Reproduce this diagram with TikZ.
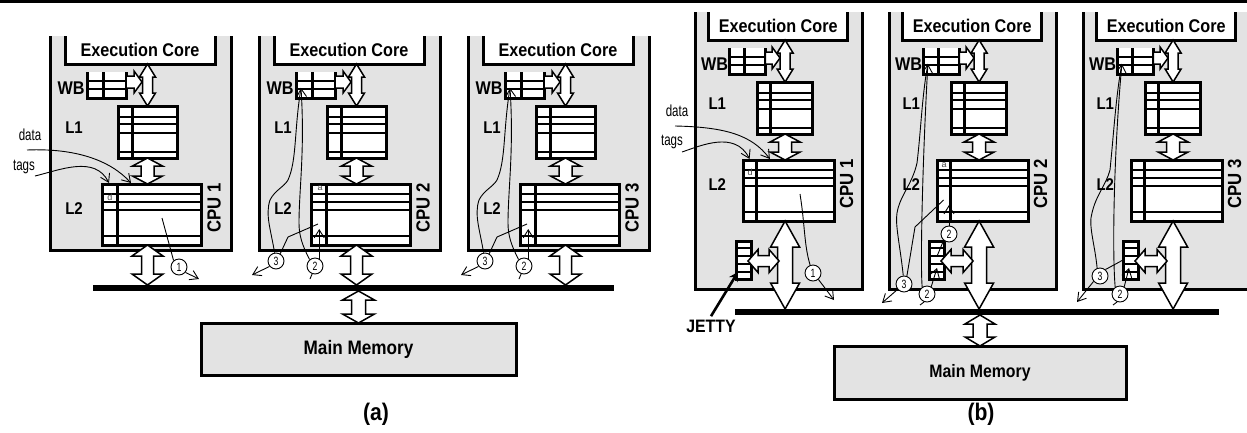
\documentclass[tikz,border=0pt]{standalone}
\usepackage{fontspec}
\setmainfont{Liberation Sans}
\newfontfamily\narrowfont[FakeStretch=0.72]{Liberation Sans}
\newfontfamily\tallfont[FakeStretch=0.88]{Liberation Sans}
\usepackage{xcolor}
\usetikzlibrary{arrows.meta, positioning, fit, calc}
\definecolor{BoxGray}{RGB}{227, 227, 227}
\newcommand{\fsize}[1]{\fontsize{#1}{#1}\selectfont}
\tikzset{
  boxnode/.style={rectangle, inner sep=0pt, outer sep=0pt},
  unitbox/.style={boxnode, fill=BoxGray},
  corebox/.style={boxnode, fill=white},
  cachebox/.style={boxnode, fill=white, draw=black, line width=3pt},
  memorybox/.style={boxnode, fill=BoxGray, draw=black, line width=3pt},
  openside/.style={line width=3pt, line cap=butt},
  cacheline/.style={line width=2.3pt},
  cachevert/.style={line width=3pt},
  buspath/.style={boxnode, fill=black},
  labeltext/.style={font=\fsize{17}\tallfont\bfseries},
  corelabel/.style={font=\fsize{18.4}\tallfont\bfseries},
  cputext/.style={font=\fsize{19}\tallfont\bfseries, rotate=90},
  captext/.style={font=\fsize{24}\tallfont\bfseries},
  thintext/.style={font=\fsize{16}\narrowfont},
  tinytext/.style={font=\fsize{9}, text=black!70},
  stepnum/.style={circle, draw=black, fill=white, line width=0.9pt, inner sep=0pt,
    minimum size=16pt, font=\fsize{12}\narrowfont},
  leader/.style={line width=0.9pt},
  leadarr/.style={leader, -{Straight Barb[length=8pt,width=10pt]}},
  blockarrow/.style={draw=black, fill=white, line width=1.5pt, line join=miter},
  dblv/.style n args={3}{to path={let \p1=(\tikztostart), \p2=(\tikztotarget) in
    -- (\x1+#1pt,\y1-#3pt) -- (\x1+#2pt,\y1-#3pt) -- (\x1+#2pt,\y2+#3pt)
    -- (\x1+#1pt,\y2+#3pt) -- (\x1,\y2) -- (\x1-#1pt,\y2+#3pt)
    -- (\x1-#2pt,\y2+#3pt) -- (\x1-#2pt,\y1-#3pt) -- (\x1-#1pt,\y1-#3pt) -- cycle}},
  dblh/.style n args={3}{to path={let \p1=(\tikztostart), \p2=(\tikztotarget) in
    -- (\x1+#3pt,\y1+#1pt) -- (\x1+#3pt,\y1+#2pt) -- (\x2-#3pt,\y1+#2pt)
    -- (\x2-#3pt,\y1+#1pt) -- (\x2,\y1) -- (\x2-#3pt,\y1-#1pt)
    -- (\x2-#3pt,\y1-#2pt) -- (\x1+#3pt,\y1-#2pt) -- (\x1+#3pt,\y1-#1pt) -- cycle}},
  sglh/.style n args={3}{to path={let \p1=(\tikztostart), \p2=(\tikztotarget) in
    -- (\x1,\y1+#2pt) -- (\x2-#3pt,\y1+#2pt) -- (\x2-#3pt,\y1+#1pt) -- (\x2,\y1)
    -- (\x2-#3pt,\y1-#1pt) -- (\x2-#3pt,\y1-#2pt) -- (\x1,\y1-#2pt) -- cycle}},
}
% #1 name, #2 shift x, #3 shift y, #4 xscale, #5 bottom of gray box, #6 cpu label
\newcommand{\cpuunit}[6]{
  \begin{scope}[shift={(#2,#3)}, xscale=#4]
    \node[unitbox, fit={(50,36) (231,#5)}] (#1box) {};
    \draw[openside] (#1box.north west) -- (#1box.south west) -- (#1box.south east) -- (#1box.north east);
    \node[corebox, fit={(65,36) (215,64)}] (#1exec) {};
    \draw[openside] (#1exec.north west) -- (#1exec.south west) -- (#1exec.south east) -- (#1exec.north east);
    \node[corelabel] (#1exectext) at (140,50) {Execution Core};
    \node[corebox, fit={(87,72) (126,98)}] (#1wb) {};
    \draw[openside] (#1wb.north west) -- (#1wb.south west) -- (#1wb.south east) -- (#1wb.north east);
    \draw[cachevert] (103,72) -- (103,98);
    \foreach \y in {81,89} \draw[cacheline] (87,\y) -- (126,\y);
    \node[cachebox, fit={(118,106) (177,158)}] (#1lone) {};
    \draw[cachevert] (132,106) -- (132,158);
    \foreach \y in {117,124,133,152} \draw[cacheline] (118,\y) -- (177,\y);
    \node[cachebox, fit={(102,184) (201,245)}] (#1ltwo) {};
    \draw[cachevert] (117,184) -- (117,245);
    \foreach \y in {194,202,210,236} \draw[cacheline] (102,\y) -- (201,\y);
    \node[corelabel] (#1wbtext) at (71,88) {WB};
    \node[labeltext] (#1lonetext) at (74,128) {L1};
    \node[labeltext] (#1ltwotext) at (74,209) {L2};
    \node[cputext] (#1cpu) at (214,208) {CPU #6};
    \coordinate (#1wbtip) at (142,82);
    \coordinate (#1wbhit) at (92,88);
    \coordinate (#1ltwohit) at (111,229);
    \coordinate (#1ltwonote) at (109,224);
    \coordinate (#1datahit) at (131,183);
    \coordinate (#1tagshit) at (109,183);
  \end{scope}
  \draw[blockarrow, dblv={8}{5}{13}] (#1lone |- #1exec.south) to (#1lone.north);
  \draw[blockarrow, sglh={11}{6}{8}] (#1wb.east |- #1wbtip) to (#1wbtip);
  \draw[blockarrow, dblv={15}{6.5}{8}] (#1lone.south) to (#1lone |- #1ltwo.north);
}
% #1 name, #2 jetty left edge
\newcommand{\jettybox}[2]{
  \node[cachebox, fit={(#2,241) (#2+15,279)}] (#1jetty) {};
  \foreach \y in {248,256,264,272} \draw[cacheline] (#2,\y) -- (#2+15,\y);
  \draw[blockarrow, dblh={11.5}{5.5}{10}] ($(#1jetty.east)+(-3,1)$) to ($(#1lone |- #1jetty.east)+(-6,1)$);
}
% #1 name, #2 shift x
\newcommand{\notesa}[2]{
  \begin{scope}[shift={(#2,0)}]
    \node[stepnum] (#1nthree) at (67,261) {3};
    \node[stepnum] (#1ntwo) at (106,266) {2};
    \coordinate (#1threeout) at (43,275);
    \coordinate (#1twoout) at (101,279);
    \draw[leader] (#1nthree.100) .. controls (62,230) and (56,215) .. (61,200)
      .. controls (66,190) and (75,187) .. (79,180) .. controls (88,160) and (85,130) .. (#1wbhit);
    \draw[leadarr] (#1ntwo.130) .. controls (93,245) and (90,235) .. (90,223)
      .. controls (90,190) and (96,150) .. (#1wbhit);
    \draw[leader] (#1nthree.60) -- (79,237) -- (#1ltwonote);
    \draw[leadarr] (#1ntwo.60) -- (#1ntwo.60 |- #1ltwohit);
    \draw[leadarr] (#1nthree.220) -- (#1threeout);
    \draw[leader] (#1ntwo.250) -- (#1twoout);
  \end{scope}
}
\begin{document}
\begin{tikzpicture}[x=1pt, y=-1pt]
  \useasboundingbox (0,0) rectangle (1247,432);
  \clip (0,0) rectangle (1247,432);
  \node[buspath, fit={(0,0) (1247,3)}] (toprule) {};

  % panel (a)
  \node[buspath, fit={(93,285) (614,291)}] (busa) {};
  \node[memorybox, fit={(201,323) (516,375)}] (mema) {};
  \node[font=\fsize{19.5}\tallfont\bfseries] (memtexta) at (mema.center) {Main Memory};
  \node[captext] (capa) at (376,414) {(a)};
  \draw[blockarrow, dblv={16}{7}{9}] (mema |- busa.south) to (mema.north);
  \foreach \name/\dx/\num in {aone/0/1, atwo/209/2, athree/418/3} {
    \cpuunit{\name}{\dx}{0}{1}{250}{\num}
    \draw[blockarrow, dblv={15.5}{6}{11}] (\name lone |- \name ltwo.south) to (\name lone |- busa.north);
  }
  \notesa{atwo}{209}
  \notesa{athree}{418}
  \node[tinytext] (adone) at (110,197) {d};
  \node[tinytext] (adtwo) at (320,188) {a};
  \node[thintext] (adata) at (30,135) {data};
  \node[thintext] (atags) at (24,167) {tags};
  \coordinate (adatastart) at (27,150);
  \coordinate (atagsstart) at (35,176);
  \draw[leadarr] (adatastart) .. controls (75,148) and (110,160) .. (aonedatahit);
  \draw[leadarr] (atagsstart) .. controls (60,170) and (95,155) .. (aonetagshit);
  \node[stepnum] (aonenum) at (179,267) {1};
  \coordinate (aonetap) at (162,218);
  \coordinate (aoneout) at (199,279);
  \draw[leader] (aonetap) -- (aonenum.130);
  \draw[leadarr] (aonenum.-40) -- (aoneout);

  % panel (b)
  \node[buspath, fit={(735,309) (1219,315)}] (busb) {};
  \node[memorybox, fit={(834,346) (1126,399)}] (memb) {};
  \node[font=\fsize{18}\tallfont\bfseries] (memtextb) at (memb.center) {Main Memory};
  \node[captext] (capb) at (981,414) {(b)};
  \draw[blockarrow, dblv={15}{7}{9}] (memb |- busb.south) to (memb.north);
  \foreach \name/\dx/\num in {bone/649/1, btwo/843/2, bthree/1037/3} {
    \cpuunit{\name}{\dx}{-24}{0.9227}{313}{\num}
    \draw[blockarrow, dblv={14.5}{7.5}{26}] (\name lone |- \name ltwo.south) to (\name lone |- busb.north);
  }
  \jettybox{bone}{736}
  \jettybox{btwo}{929}
  \jettybox{bthree}{1123}
  \node[font=\fsize{18}\tallfont\bfseries] (jettytext) at (711,326) {JETTY};
  \draw[line width=2.6pt, -{Stealth[length=9pt,width=10pt]}] (jettytext.north) -- ($(bonejetty.west)+(2,12)$);
  \node[tinytext] (bdone) at (750,172) {d};
  \node[tinytext] (bdtwo) at (944,165) {a};
  \node[thintext] (bdata) at (677,111) {data};
  \node[thintext] (btags) at (672,142) {tags};
  \coordinate (bdatastart) at (675,126);
  \coordinate (btagsstart) at (682,152);
  \draw[leadarr] (bdatastart) .. controls (725,127) and (752,135) .. (bonedatahit);
  \draw[leadarr] (btagsstart) .. controls (700,146) and (735,130) .. (bonetagshit);
  \node[stepnum] (bonenum) at (813,273) {1};
  \coordinate (bonetap) at (800,194);
  \coordinate (boneout) at (834,300);
  \draw[leader] (bonetap) .. controls (805,225) and (804,245) .. (bonenum.110);
  \draw[leadarr] (bonenum.-50) -- (boneout);

  % cpu 2 of panel (b)
  \node[stepnum] (btwonthree) at (904,284) {3};
  \node[stepnum] (btwontwo) at (927,294) {2};
  \node[stepnum] (btwonup) at (949,234) {2};
  \coordinate (btwothreeout) at (882,303);
  \coordinate (btwotwoout) at (920,305);
  \draw[leader] (btwonthree.95) .. controls (900,245) and (895,225) .. (897,213)
    .. controls (900,195) and (912,185) .. (917,163) .. controls (921,130) and (922,95) .. (btwowbhit);
  \draw[leadarr] (btwontwo.125) .. controls (920,260) and (923,150) .. (btwowbhit);
  \draw[leader] (btwonthree.70) -- (915,227) -- (btwoltwonote);
  \draw[leadarr] (btwonup.90) -- (btwonup.90 |- btwoltwohit);
  \draw[leader] (btwonup.-130) -- ($(btwojetty.center)+(1,-5)$);
  \draw[leadarr] (btwontwo.60) -- (937,268);
  \draw[leadarr] (btwonthree.220) -- (btwothreeout);
  \draw[leader] (btwontwo.250) -- (btwotwoout);

  % cpu 3 of panel (b)
  \node[stepnum] (bthreenthree) at (1100,276) {3};
  \node[stepnum] (bthreentwo) at (1120,294) {2};
  \coordinate (bthreethreeout) at (1077,302);
  \coordinate (bthreetwoout) at (1113,305);
  \draw[leader] (bthreenthree.110) .. controls (1095,245) and (1088,225) .. (1092,213)
    .. controls (1096,195) and (1106,185) .. (1110,170) .. controls (1114,130) and (1116,95) .. (bthreewbhit);
  \draw[leadarr] (bthreentwo.125) .. controls (1112,250) and (1114,150) .. (bthreewbhit);
  \draw[leader] (bthreenthree.50) -- (bthreejetty.west);
  \draw[leadarr] (bthreentwo.60) -- (1129,268);
  \draw[leadarr] (bthreenthree.220) -- (bthreethreeout);
  \draw[leader] (bthreentwo.250) -- (bthreetwoout);
\end{tikzpicture}
\end{document}
